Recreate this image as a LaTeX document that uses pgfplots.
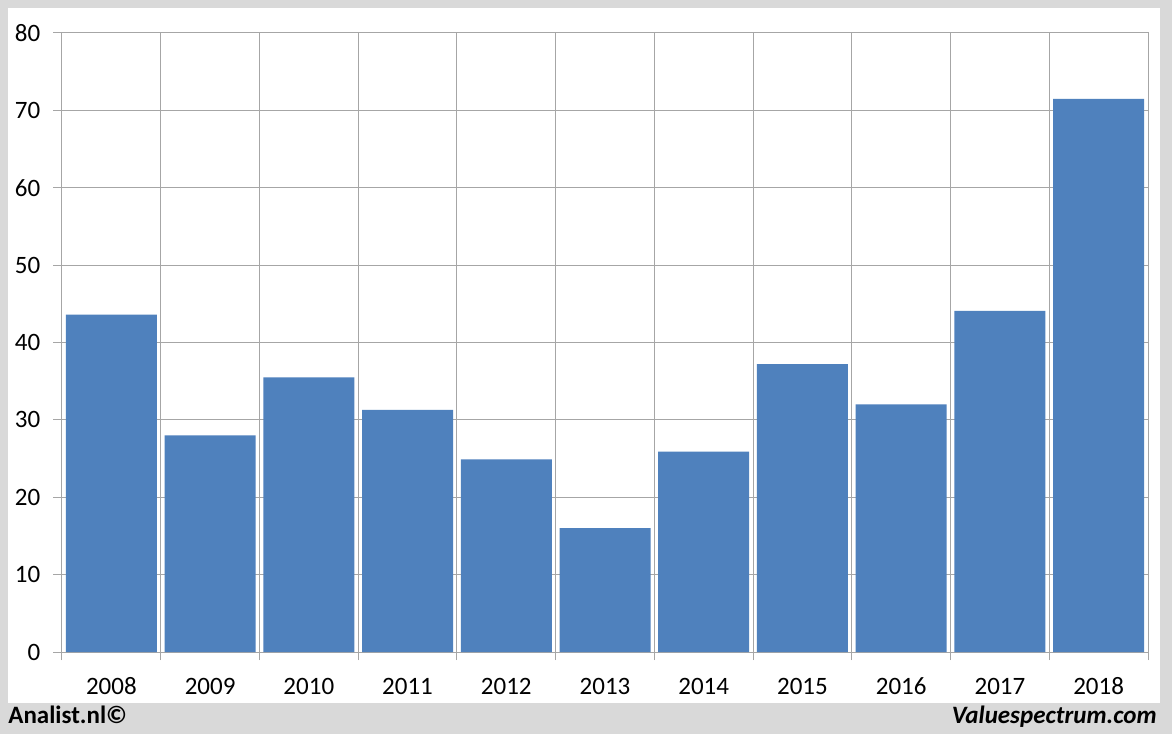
\documentclass[border=0pt]{standalone}
\usepackage{pgfplots}
\pgfplotsset{compat=1.18}
\usepackage{fontspec}
\setmainfont{Carlito}
\definecolor{bg}{HTML}{D9D9D9}
\definecolor{barc}{HTML}{4F81BD}
\definecolor{gridc}{HTML}{A6A6A6}
\begin{document}
\fontsize{12.5}{15}\selectfont
\begin{tikzpicture}
\useasboundingbox (0,0) rectangle (586pt,367pt);
\fill[bg] (0,0) rectangle (586pt,367pt);
\fill[white] (4pt,15.5pt) rectangle (580pt,363pt);
\begin{axis}[
  at={(31pt,41pt)}, anchor=south west,
  scale only axis, width=543pt, height=309.5pt,
  xmin=-0.5, xmax=10.5, ymin=0, ymax=80,
  ytick={0,10,...,80},
  xtick={0,...,10},
  xticklabels={2008,2009,2010,2011,2012,2013,2014,2015,2016,2017,2018},
  minor xtick={-0.5,0.5,...,10.5},
  xtick pos=bottom, ytick pos=left,
  xminorgrids, ymajorgrids,
  grid style={gridc, line width=0.5pt},
  minor grid style={gridc, line width=0.5pt},
  axis line style={gridc, line width=0.5pt},
  tick style={gridc, line width=0.5pt},
  tick align=outside,
  major tick length=4.5pt, minor tick length=4pt,
  major x tick style={draw=none},
  ticklabel style={font=\fontsize{12.5}{15}\selectfont, text=black},
  /pgf/number format/assume math mode=true,
  yticklabel style={xshift=-2pt},
  xticklabel style={text height=8.5pt, text depth=0pt, yshift=-4pt},
  ybar, bar width=45.5pt,
]
\addplot[fill=barc, draw=none] coordinates {
(0,43.6) (1,28.0) (2,35.5) (3,31.3) (4,24.9) (5,16.0) (6,25.9) (7,37.2) (8,32.0) (9,44.1) (10,71.5)
};
\end{axis}
\node[anchor=base west, inner sep=0] at (4pt,5.5pt) {\bfseries Analist.nl©};
\node[anchor=base east, inner sep=0] at (578.5pt,5.5pt) {\bfseries\itshape Valuespectrum.com};
\end{tikzpicture}
\end{document}
